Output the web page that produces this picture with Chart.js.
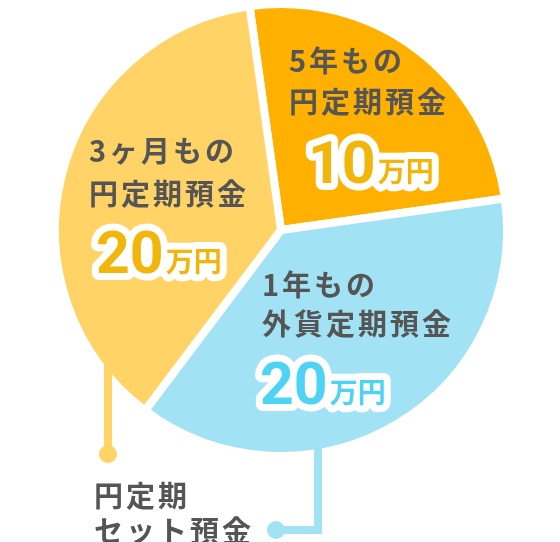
<!DOCTYPE html>
<html lang="ja">
<head>
<meta charset="utf-8">
<script src="https://cdn.jsdelivr.net/npm/chart.js@4"></script>
<style>
  html, body { margin: 0; padding: 0; background: #fff; overflow: hidden; }
  #chart { display: block; }
</style>
</head>
<body>
<canvas id="chart" width="560" height="542"></canvas>
<script>
// ==================================================
// DATA
// ==================================================
const categories = [
  ["5年もの", "円定期預金"],
  ["1年もの", "外貨定期預金"],
  ["3ヶ月もの", "円定期預金"],
];
const amounts = [10, 20, 20]; // shown as "xx万円"
const shares = [25, 37.5, 37.5]; // slice size as drawn in the picture
const unitLabel = "万円";
const calloutLabel = ["円定期", "セット預金"];

// ==================================================
// STYLE
// ==================================================
const sliceColors = ["#FFB000", "#A2E2F5", "#FFD366"];
const valueColors = ["#F2B50A", "#4DD4F5", "#F2B50A"];
const textColor = "#555555";
const jpFont = '"Noto Sans CJK JP", "Noto Sans", sans-serif';
const numFont = 'Roboto, "Noto Sans", sans-serif';
const labelFont = "bold 29px " + jpFont;

// label offsets from pie center: [text x, line1 y, line2 y, value x, value baseline]
const labelLayout = [
  [8, -169, -128, 27, -47],
  [-19, 55, 94, -21, 174],
  [-192, -79, -36, -185, 43],
];

// ==================================================
// LABEL + CALLOUT PLUGIN
// ==================================================
const sliceLabels = {
  id: "sliceLabels",
  afterDatasetsDraw(chart) {
    const ctx = chart.ctx;
    const arc = chart.getDatasetMeta(0).data[0];
    const cx = arc.x;
    const cy = arc.y;

    ctx.save();
    // callout lines (yellow: 3ヶ月, blue: 1年)
    ctx.lineWidth = 8;
    ctx.lineCap = "butt";
    ctx.strokeStyle = sliceColors[2];
    ctx.beginPath();
    ctx.moveTo(cx - 173, cy + 100);
    ctx.lineTo(cx - 173, cy + 224);
    ctx.stroke();
    ctx.fillStyle = sliceColors[2];
    ctx.beginPath();
    ctx.arc(cx - 173, cy + 224, 9, 0, Math.PI * 2);
    ctx.fill();

    ctx.strokeStyle = sliceColors[1];
    ctx.lineJoin = "miter";
    ctx.beginPath();
    ctx.moveTo(cx + 37, cy + 195);
    ctx.lineTo(cx + 37, cy + 300);
    ctx.lineTo(cx - 5, cy + 300);
    ctx.stroke();
    ctx.fillStyle = sliceColors[1];
    ctx.beginPath();
    ctx.arc(cx - 5, cy + 300, 9, 0, Math.PI * 2);
    ctx.fill();

    // callout text
    ctx.fillStyle = textColor;
    ctx.font = labelFont;
    ctx.letterSpacing = "3px";
    ctx.textBaseline = "middle";
    ctx.textAlign = "left";
    ctx.fillText(calloutLabel[0], cx - 187, cy + 266);
    ctx.fillText(calloutLabel[1], cx - 187, cy + 301);

    // slice labels
    categories.forEach((lines, i) => {
      const [tx, y1, y2, vx, vy] = labelLayout[i];
      ctx.fillStyle = textColor;
      ctx.font = labelFont;
      ctx.letterSpacing = "3px";
      ctx.textBaseline = "middle";
      ctx.fillText(lines[0], cx + tx, cy + y1);
      ctx.fillText(lines[1], cx + tx, cy + y2);

      // value with white outline
      ctx.letterSpacing = "0px";
      ctx.textBaseline = "alphabetic";
      const num = String(amounts[i]);
      ctx.font = "bold 59px " + numFont;
      const numW = ctx.measureText(num).width;
      const ux = cx + vx + numW + 2;
      ctx.lineJoin = "round";
      ctx.lineWidth = 14;
      ctx.strokeStyle = "#ffffff";
      ctx.strokeText(num, cx + vx, cy + vy);
      ctx.font = "bold 28px " + jpFont;
      ctx.strokeText(unitLabel, ux, cy + vy - 1);
      ctx.fillStyle = valueColors[i];
      ctx.font = "bold 59px " + numFont;
      ctx.fillText(num, cx + vx, cy + vy);
      ctx.font = "bold 28px " + jpFont;
      ctx.fillText(unitLabel, ux, cy + vy - 1);
    });
    ctx.restore();
  },
};

// ==================================================
// CHART
// ==================================================
const ctx = document.getElementById("chart").getContext("2d");
new Chart(ctx, {
  type: "pie",
  data: {
    labels: categories.map((l) => l.join("")),
    datasets: [
      {
        data: shares,
        backgroundColor: sliceColors,
        borderColor: "#ffffff",
        borderWidth: 8,
      },
    ],
  },
  options: {
    responsive: false,
    devicePixelRatio: 1,
    animation: false,
    rotation: -8,
    layout: { padding: { left: 47, right: 45, top: -8, bottom: 82 } },
    plugins: {
      legend: { display: false },
      tooltip: { enabled: false },
    },
  },
  plugins: [sliceLabels],
});
</script>
</body>
</html>
